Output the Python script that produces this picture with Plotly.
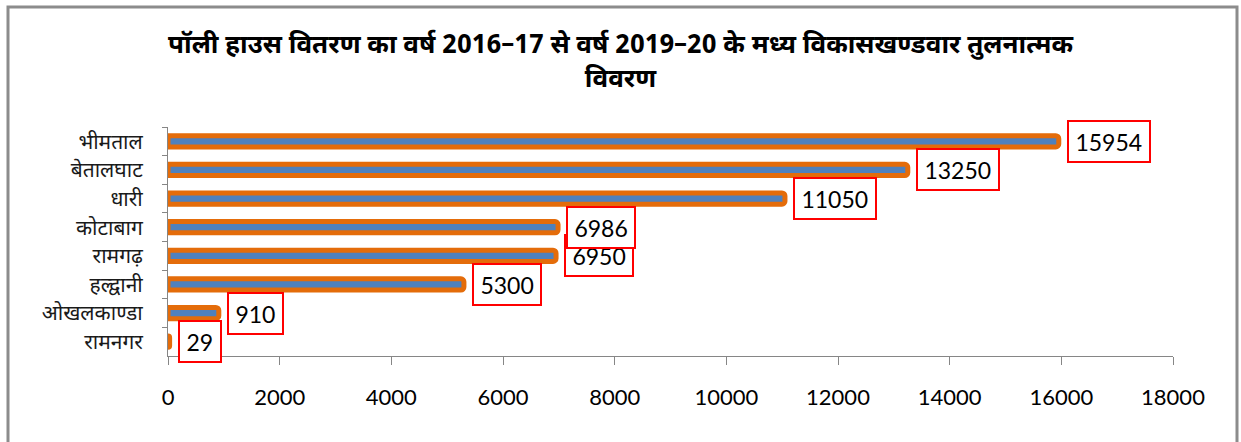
import plotly.graph_objects as go

# Blocks and the number of poly houses distributed (2016-17 to 2019-20)
blocks = ["भीमताल", "बेतालघाट", "धारी", "कोटाबाग", "रामगढ़", "हल्द्वानी", "ओखलकाण्डा", "रामनगर"]
poly_houses = [15954, 13250, 11050, 6986, 6950, 5300, 910, 29]
x_ticks = [0, 2000, 4000, 6000, 8000, 10000, 12000, 14000, 16000, 18000]

title_text = "पॉली हाउस वितरण का वर्ष 2016–17 से वर्ष 2019–20 के मध्य विकासखण्डवार तुलनात्मक<br>विवरण"

ORANGE = "#E46C0A"
BLUE = "#4F81BD"
AXIS = "#868686"

fig = go.Figure(
    go.Bar(
        x=poly_houses,
        y=blocks,
        orientation="h",
        width=0.39,
        marker=dict(color=BLUE, line=dict(color=ORANGE, width=5), cornerradius=3),
        hoverinfo="x+y",
    )
)

# Boxed value labels; drawn bottom-up so upper boxes sit on top of lower ones
annotations = []
for name, val in reversed(list(zip(blocks, poly_houses))):
    n = len(str(val))
    annotations.append(
        dict(
            x=val, y=name, xref="x", yref="y",
            text=str(val), showarrow=False,
            xanchor="left", yanchor="middle", xshift=8,
            font=dict(family="Lato, Carlito, sans-serif", size=23, color="#000000"),
            bgcolor="#FFFFFF", bordercolor="#FF0000", borderwidth=2, borderpad=4,
            width=13.3 * n + 5, height=31, align="center",
        )
    )

fig.update_layout(
    width=1241, height=442,
    margin=dict(l=168, r=68, t=127, b=86),
    paper_bgcolor="#FFFFFF", plot_bgcolor="#FFFFFF",
    showlegend=False,
    title=dict(
        text=title_text, x=0.5, xref="container", xanchor="center",
        y=0.88, yref="container", yanchor="bottom",
        font=dict(family="Noto Sans Devanagari, Noto Sans, sans-serif", size=26, color="#000000", weight="bold"),
    ),
    annotations=annotations,
    shapes=[
        dict(type="rect", xref="paper", yref="paper",
             x0=(8 - 168) / 1005, x1=(1237 - 168) / 1005,
             y0=-(442 - 356 + 20) / 229, y1=(356 - 7) / 229,
             line=dict(color="#8C8C8C", width=3), fillcolor="rgba(0,0,0,0)", layer="below"),
    ],
)

fig.update_xaxes(
    range=[0, 18000], tickvals=x_ticks, ticktext=[str(t) for t in x_ticks],
    showgrid=False, zeroline=False,
    showline=True, linecolor=AXIS, linewidth=1,
    ticks="outside", ticklen=8, tickcolor=AXIS, tickwidth=1,
    tickfont=dict(family="Lato, Carlito, sans-serif", size=22, color="#000000"),
    ticklabelstandoff=14,
)
fig.update_yaxes(
    categoryorder="array", categoryarray=blocks, range=[7.5, -0.5],
    showgrid=False, zeroline=False,
    showline=True, linecolor=AXIS, linewidth=1,
    ticks="outside", ticklen=5, tickcolor=AXIS, tickwidth=1, tickson="boundaries",
    tickfont=dict(family="Noto Sans Devanagari, Noto Sans, sans-serif", size=21, color="#1A1A1A"),
    ticklabelstandoff=20,
)

fig.write_html("out.html")
